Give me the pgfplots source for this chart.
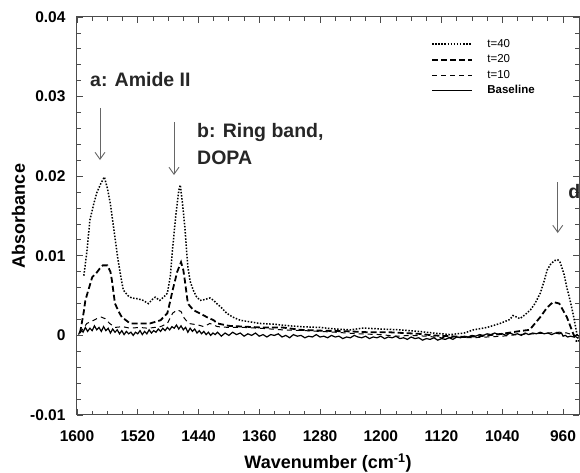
\documentclass[border=0pt]{standalone}
\usepackage{fontspec}
\setmainfont{Liberation Sans}
\usepackage{pgfplots}
\usepackage{pgfplotstable}
\pgfplotsset{compat=1.18}
\usetikzlibrary{arrows.meta}

% t=40 (dotted)
\pgfplotstableread{
w y
1591 0.0075
1587 0.0105
1583 0.0145
1578 0.0165
1574 0.0179
1569 0.0190
1564 0.0199
1560 0.0185
1556 0.0165
1551 0.0130
1546 0.0095
1542 0.0072
1539 0.0057
1533 0.0050
1528 0.0047
1520 0.0046
1513 0.0044
1506 0.0040
1501 0.0045
1497 0.0048
1494 0.0046
1491 0.0044
1486 0.0048
1481 0.0053
1477 0.0075
1474 0.0110
1470 0.0150
1466 0.0182
1464 0.0189
1461 0.0165
1458 0.0136
1454 0.0086
1451 0.0068
1447 0.0057
1443 0.0049
1438 0.0044
1432 0.0045
1425 0.0047
1420 0.0044
1416 0.0040
1410 0.0035
1403 0.0028
1395 0.0023
1385 0.0019
1372 0.0017
1359 0.0015
1340 0.0014
1320 0.0012
1306 0.0011
1280 0.0010
1260 0.0008
1240 0.0007
1225 0.0009
1218 0.0009
1200 0.0008
1175 0.0007
1150 0.0005
1131 0.0003
1109 0.0001
1090 0.0003
1078 0.0007
1060 0.0010
1043 0.0015
1030 0.0020
1026 0.0025
1021 0.0023
1017 0.0021
1010 0.0026
1003 0.0032
997 0.0040
990 0.0053
985 0.0068
981 0.0082
976 0.0090
971 0.0094
967 0.0095
964 0.0092
959 0.0078
955 0.0060
951 0.0045
947 0.0028
942 0.0003
939 -0.0008
}\tforty

% t=20 (heavy dashes)
\pgfplotstableread{
w y
1596 0.0003
1591 0.0030
1589 0.0044
1580 0.0073
1574 0.0079
1570 0.0084
1566 0.0088
1560 0.0088
1556 0.0080
1554 0.0069
1550 0.0040
1544 0.0028
1541 0.0023
1530 0.0015
1510 0.0015
1504 0.0015
1490 0.0019
1481 0.0028
1478 0.0040
1474 0.0057
1468 0.0080
1463 0.0092
1460 0.0082
1458 0.0069
1454 0.0040
1447 0.0032
1437 0.0027
1429 0.0023
1420 0.0019
1415 0.0015
1400 0.0012
1380 0.0011
1359 0.0010
1330 0.0010
1306 0.0007
1280 0.0006
1240 0.0005
1218 0.0004
1190 0.0004
1150 0.0002
1131 0.0000
1110 -0.0001
1090 -0.0002
1070 -0.0001
1040 0.0002
1020 0.0005
1004 0.0007
990 0.0023
981 0.0035
973 0.0042
965 0.0040
955 0.0023
947 0.0003
942 -0.0008
}\ttwenty

% t=10 (light dashes)
\pgfplotstableread{
w y
1596 0.0003
1591 0.0010
1587 0.0015
1580 0.0018
1574 0.0021
1568 0.0023
1563 0.0021
1557 0.0015
1550 0.0010
1540 0.0011
1530 0.0009
1518 0.0010
1506 0.0009
1490 0.0011
1481 0.0015
1474 0.0028
1468 0.0032
1463 0.0030
1459 0.0022
1453 0.0015
1440 0.0013
1433 0.0011
1425 0.0015
1415 0.0011
1400 0.0010
1380 0.0010
1359 0.0009
1330 0.0007
1300 0.0006
1260 0.0004
1230 0.0002
1200 0.0001
1180 -0.0001
1160 0.0000
1140 -0.0001
1120 -0.0003
1100 -0.0002
1080 -0.0003
1060 -0.0002
1040 -0.0001
1020 0.0001
1000 0.0002
980 0.0003
965 0.0004
955 0.0003
945 0.0000
940 -0.0004
}\tten

% Baseline (solid)
\pgfplotstableread{
w y
1598 0.0001
1595 0.0007
1592 0.0004
1589 0.0010
1586 0.0005
1583 0.0009
1580 0.0006
1577 0.0012
1574 0.0007
1571 0.0010
1568 0.0005
1565 0.0011
1562 0.0006
1559 0.0009
1556 0.0003
1553 0.0008
1550 0.0004
1547 0.0007
1544 0.0002
1541 0.0006
1538 0.0001
1535 0.0005
1532 0.0002
1529 0.0004
1526 0.0000
1523 0.0004
1520 0.0002
1517 0.0006
1514 0.0001
1511 0.0005
1508 0.0002
1505 0.0007
1502 0.0003
1499 0.0006
1496 0.0004
1493 0.0008
1490 0.0005
1487 0.0009
1484 0.0006
1481 0.0010
1478 0.0007
1475 0.0011
1472 0.0009
1469 0.0013
1466 0.0008
1463 0.0012
1460 0.0007
1457 0.0010
1454 0.0004
1451 0.0009
1448 0.0005
1445 0.0008
1442 0.0003
1439 0.0006
1436 0.0002
1433 0.0005
1430 0.0001
1427 0.0004
1424 0.0000
1421 0.0003
1418 0.0001
1415 0.0004
1410 -0.0001
1405 0.0003
1400 0.0000
1395 0.0004
1390 0.0001
1385 0.0003
1380 -0.0001
1375 0.0002
1370 0.0000
1365 0.0003
1360 -0.0001
1355 0.0001
1350 -0.0002
1345 0.0001
1340 0.0000
1335 0.0002
1330 -0.0002
1325 0.0000
1320 -0.0003
1315 0.0001
1310 -0.0001
1305 0.0000
1300 -0.0003
1295 -0.0001
1290 -0.0002
1285 0.0001
1280 -0.0002
1275 -0.0001
1270 -0.0003
1265 0.0000
1260 -0.0002
1255 -0.0001
1250 -0.0004
1245 -0.0002
1240 -0.0003
1235 0.0000
1230 -0.0002
1225 -0.0003
1220 -0.0001
1215 -0.0004
1210 -0.0002
1205 -0.0003
1200 -0.0001
1195 -0.0004
1190 -0.0002
1185 -0.0003
1180 -0.0001
1175 -0.0004
1170 -0.0003
1165 -0.0005
1160 -0.0002
1155 -0.0004
1150 -0.0003
1145 -0.0006
1140 -0.0004
1135 -0.0005
1130 -0.0003
1125 -0.0006
1120 -0.0004
1115 -0.0005
1110 -0.0003
1105 -0.0005
1100 -0.0002
1095 -0.0003
1090 -0.0001
1085 -0.0002
1080 0.0000
1075 -0.0001
1070 0.0001
1065 0.0000
1060 0.0002
1055 0.0001
1050 0.0003
1045 0.0001
1040 0.0002
1035 0.0000
1030 0.0003
1025 0.0001
1020 0.0002
1015 0.0000
1010 0.0003
1005 0.0001
1000 0.0003
995 0.0002
990 0.0004
985 0.0002
980 0.0003
975 0.0001
970 0.0003
965 0.0002
962 0.0003
960 -0.0001
957 0.0000
954 -0.0002
950 -0.0001
946 -0.0002
942 0.0001
939 -0.0001
}\tbase

\begin{document}
\begin{tikzpicture}[x=1pt,y=1pt]
\useasboundingbox (0,0) rectangle (580,473);
\begin{axis}[
  at={(77pt,58pt)}, anchor=south west,
  width=502pt, height=398pt, scale only axis,
  x dir=reverse,
  xmin=939, xmax=1600, ymin=-0.01, ymax=0.04,
  xtick={960,1040,...,1600},
  ytick={-0.01,0,0.01,0.02,0.03,0.04},
  yticklabels={-0.01,0,0.01,0.02,0.03,0.04},
  minor x tick num=3, minor y tick num=4,
  tick align=inside, tickpos=both,
  major tick length=6pt, minor tick length=4pt,
  axis line style={black!70, line width=1pt},
  tick style={black!70, line width=0.8pt},
  scaled y ticks=false,
  /pgf/number format/1000 sep={},
  /pgf/number format/assume math mode=true,
  tick label style={font=\fontsize{15.5}{17}\selectfont\bfseries},
  yticklabel style={xshift=-8pt},
  xticklabel style={yshift=-12pt},
  xlabel={Wavenumber (cm\textsuperscript{-1})},
  ylabel={Absorbance},
  label style={font=\fontsize{18}{21}\selectfont\bfseries},
  xlabel style={at={(axis description cs:0.5,-0.1206)}, anchor=center},
  ylabel style={at={(axis description cs:-0.1165,0.5)}, anchor=center},
  legend style={at={(rel axis cs:0.699,0.955)}, anchor=north west,
    draw=none, fill=none, font=\fontsize{11.5}{13}\selectfont,
    nodes={inner sep=1.5pt, text height=8.5pt, text depth=2.5pt},
    row sep=1.5pt},
  legend cell align=left,
  legend image code/.code={\draw[#1] (0pt,0pt) -- (40pt,0pt); \path (53pt,0pt);},
]
\addplot[black, line width=1.5pt, dash pattern=on 1.5pt off 1.6pt] table[x=w,y=y] {\tforty};
\addplot[black, line width=1.8pt, dash pattern=on 6pt off 3pt] table[x=w,y=y] {\ttwenty};
\addplot[black, line width=1pt, dash pattern=on 5pt off 4pt] table[x=w,y=y] {\tten};
\addplot[black, line width=1.2pt] table[x=w,y=y] {\tbase};
\legend{t=40,t=20,t=10,\textbf{Baseline}}

\draw[black!60, line width=0.9pt, -{Straight Barb[length=7pt,width=10pt]}]
  (axis cs:1569.7,0.02857) -- (axis cs:1569.7,0.02203);
\draw[black!60, line width=0.9pt, -{Straight Barb[length=7pt,width=10pt]}]
  (axis cs:1472.3,0.0268) -- (axis cs:1472.3,0.02015);
\draw[black!60, line width=0.9pt, -{Straight Barb[length=7pt,width=10pt]}]
  (axis cs:967,0.01927) -- (axis cs:967,0.01286);
\node[anchor=west, inner sep=0pt, font=\fontsize{19.5}{22}\selectfont\bfseries, text=black!85]
  at (axis cs:1582.9,0.0321) {a: Amide II};
\node[anchor=west, inner sep=0pt, font=\fontsize{19.5}{22}\selectfont\bfseries, text=black!85]
  at (axis cs:1442,0.02543) {b: Ring band,};
\node[anchor=west, inner sep=0pt, font=\fontsize{19.5}{22}\selectfont\bfseries, text=black!85]
  at (axis cs:1442,0.02229) {DOPA};
\node[anchor=west, inner sep=0pt, font=\fontsize{19.5}{22}\selectfont\bfseries, text=black!85]
  at (axis cs:953.4,0.01802) {d};
\end{axis}
\end{tikzpicture}
\end{document}
